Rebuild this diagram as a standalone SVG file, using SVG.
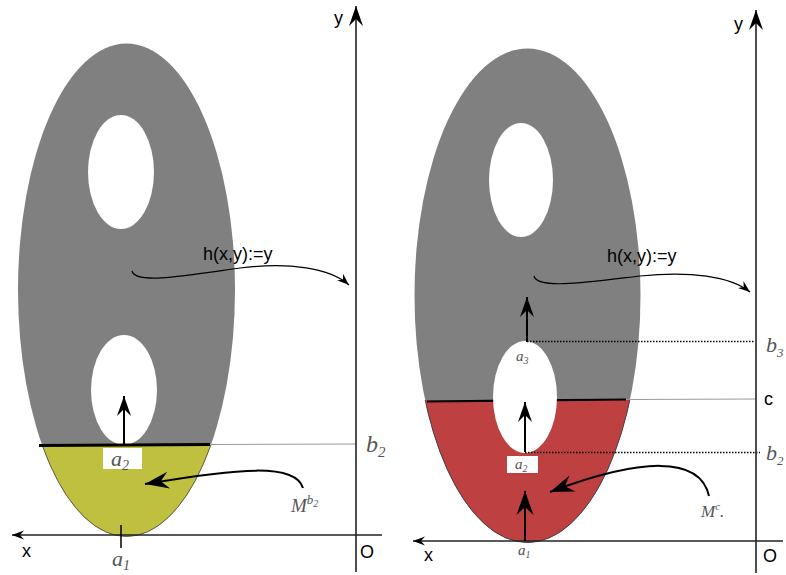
<svg xmlns="http://www.w3.org/2000/svg" width="786" height="575" viewBox="0 0 786 575">
<style>
.lbl{font-family:"Liberation Sans",Arial,sans-serif;fill:#000}
.m{font-family:"Liberation Serif","Times New Roman",serif;font-style:italic;fill:#555}
.ax{stroke:#222;stroke-width:1.6;fill:none}
.thin{stroke:#999;stroke-width:1;fill:none}
.dot{stroke:#000;stroke-width:1.3;stroke-dasharray:1.5 1.5;fill:none}
.arr{stroke:#000;stroke-width:2;fill:none}
.cur{stroke:#000;stroke-width:1.2;fill:none}
</style>
<defs>
<marker id="big" markerUnits="userSpaceOnUse" viewBox="-26 -10 28 20" refX="0" refY="0" markerWidth="28" markerHeight="20" orient="auto">
<path d="M0,0 L-24,-8.5 L-16,0 L-24,8.5 Z" fill="#000"/>
</marker>
<marker id="mid" markerUnits="userSpaceOnUse" viewBox="-22 -8 24 16" refX="0" refY="0" markerWidth="24" markerHeight="16" orient="auto">
<path d="M0,0 L-20,-7 L-13,0 L-20,7 Z" fill="#000"/>
</marker>
<marker id="sm" markerUnits="userSpaceOnUse" viewBox="-14 -6 16 12" refX="0" refY="0" markerWidth="16" markerHeight="12" orient="auto">
<path d="M0,0 L-12,-4.5 L-8,0 L-12,4.5 Z" fill="#000"/>
</marker>
<clipPath id="cl"><rect x="0" y="445" width="400" height="130"/></clipPath>
<clipPath id="cr"><rect x="400" y="400" width="386" height="175"/></clipPath>
</defs>

<g id="left-shape">
<ellipse cx="126.5" cy="290" rx="108.5" ry="246.5" fill="#808080"/>
<ellipse cx="126.5" cy="290" rx="108.5" ry="246.5" fill="#c0c040" stroke="#444" stroke-width="0.8" clip-path="url(#cl)"/>
<ellipse cx="121" cy="172" rx="33" ry="57" fill="#fff"/>
<ellipse cx="124" cy="390" rx="33" ry="55" fill="#fff"/>
<line x1="39" y1="445.5" x2="210" y2="444.5" stroke="#000" stroke-width="3"/>
<line x1="210" y1="444.5" x2="356" y2="444" class="thin"/>
</g>

<g id="left-axes">
<line x1="356" y1="572" x2="356" y2="6" class="ax" marker-end="url(#mid)"/>
<line x1="382" y1="535" x2="12" y2="535" class="ax" marker-end="url(#sm)"/>
<text x="334" y="24" class="lbl" font-size="18">y</text>
<text x="22" y="557" class="lbl" font-size="18">x</text>
<text x="360" y="558" class="lbl" font-size="18">O</text>
<text x="366" y="452" class="m" font-size="24">b<tspan font-size="15" dy="5">2</tspan></text>
</g>

<g id="left-labels">
<rect x="103" y="448" width="39" height="21" fill="#fff"/>
<text x="111" y="466" class="m" font-size="22">a<tspan font-size="14" dy="4">2</tspan></text>
<line x1="121" y1="525" x2="121" y2="548" stroke="#000" stroke-width="1.5"/>
<text x="112" y="566" class="m" font-size="22">a<tspan font-size="14" dy="4">1</tspan></text>
<text x="203" y="260" class="lbl" font-size="18">h(x,y):=y</text>
<text x="291" y="512" class="m" font-size="19">M<tspan font-size="13" dy="-8">b</tspan><tspan font-size="10" dy="3">2</tspan></text>
</g>

<g id="left-connectors">
<line x1="124" y1="445" x2="124" y2="396" class="arr" marker-end="url(#mid)"/>
<path d="M132,271 C135,285 190,275 240,268 C290,262 330,268 349,285" class="cur" marker-end="url(#sm)"/>
<path d="M303,488 C295,463 240,468 145,484" class="arr" marker-end="url(#big)"/>
</g>

<g id="right-shape">
<ellipse cx="527.5" cy="295.5" rx="113" ry="247" fill="#808080"/>
<ellipse cx="527.5" cy="295.5" rx="113" ry="247" fill="#bf4040" stroke="#444" stroke-width="1" clip-path="url(#cr)"/>
<line x1="427" y1="401.5" x2="626" y2="399.5" stroke="#000" stroke-width="2.2"/>
<ellipse cx="521" cy="180" rx="32" ry="57" fill="#fff"/>
<ellipse cx="525" cy="397" rx="32" ry="56" fill="#fff"/>
<line x1="626" y1="399.5" x2="756" y2="399" class="thin"/>
<line x1="527" y1="341.5" x2="755" y2="341.5" class="dot"/>
<line x1="525" y1="452.5" x2="760" y2="452.5" class="dot"/>
</g>

<g id="right-axes">
<line x1="756" y1="573" x2="756" y2="10" class="ax" marker-end="url(#mid)"/>
<line x1="783" y1="541" x2="413" y2="541" class="ax" marker-end="url(#sm)"/>
<text x="734" y="30" class="lbl" font-size="18">y</text>
<text x="424" y="561" class="lbl" font-size="18">x</text>
<text x="763" y="562" class="lbl" font-size="18">O</text>
<text x="764" y="405" class="lbl" font-size="18">c</text>
<text x="766" y="352" class="m" font-size="22">b<tspan font-size="13" dy="5">3</tspan></text>
<text x="766" y="460" class="m" font-size="22">b<tspan font-size="13" dy="5">2</tspan></text>
</g>

<g id="right-labels">
<rect x="507" y="456" width="31" height="17" fill="#fff"/>
<text x="515" y="469" class="m" font-size="15">a<tspan font-size="10" dy="3">2</tspan></text>
<text x="516" y="361" class="m" font-size="15">a<tspan font-size="10" dy="3">3</tspan></text>
<text x="518" y="555" class="m" font-size="15">a<tspan font-size="10" dy="3">1</tspan></text>
<text x="607" y="262" class="lbl" font-size="18">h(x,y):=y</text>
<text x="701" y="517" class="m" font-size="17">M<tspan font-size="11" dy="-7">c</tspan><tspan dy="7">.</tspan></text>
</g>

<g id="right-connectors">
<line x1="525" y1="541" x2="525" y2="491" class="arr" marker-end="url(#big)"/>
<line x1="525" y1="452" x2="525" y2="402" class="arr" marker-end="url(#mid)"/>
<line x1="527" y1="342" x2="527" y2="297" class="arr" marker-end="url(#mid)"/>
<path d="M534,276 C537,290 590,282 640,276 C690,271 730,276 750,292" class="cur" marker-end="url(#sm)"/>
<path d="M709,496 C700,455 640,458 550,492" class="arr" marker-end="url(#big)"/>
</g>
</svg>
